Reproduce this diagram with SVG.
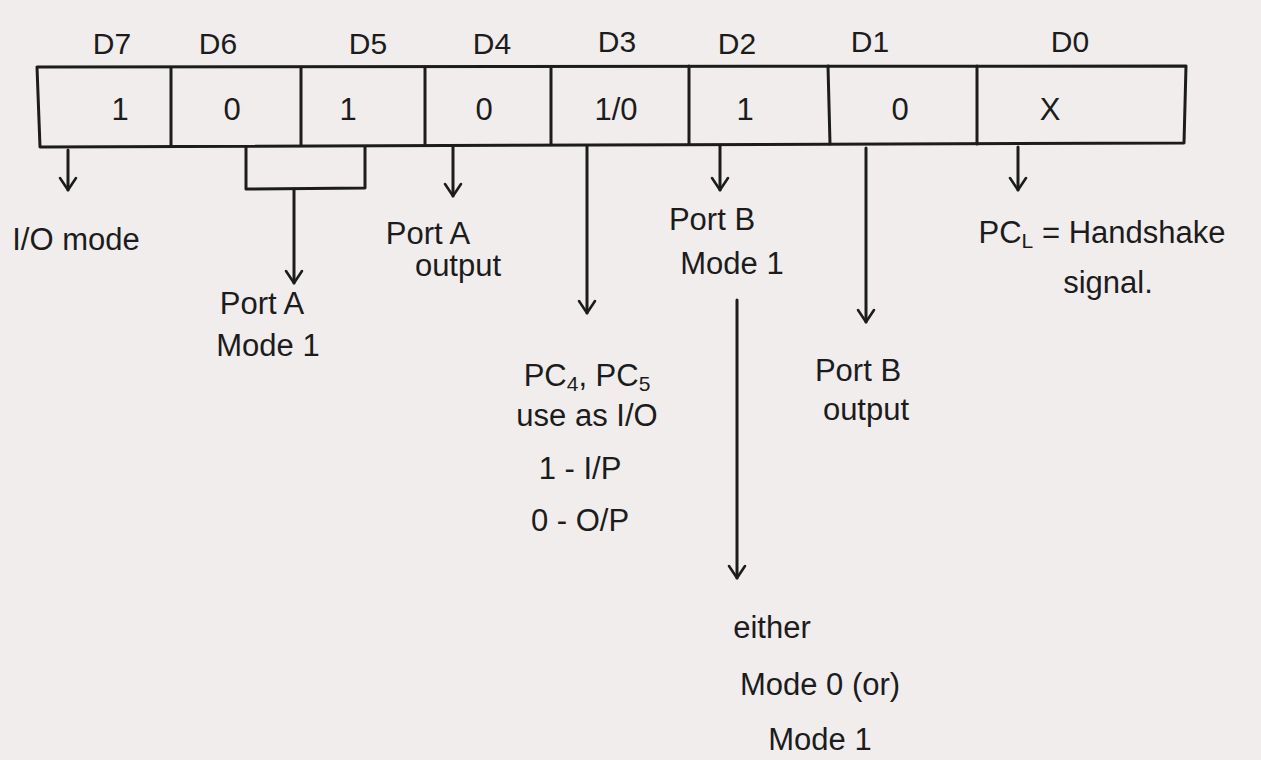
<svg xmlns="http://www.w3.org/2000/svg" width="1261" height="760" viewBox="0 0 1261 760">
  <style>
    .ink { stroke: #1c1c1c; stroke-width: 3; fill: none; stroke-linecap: round; stroke-linejoin: round; }
    .t { font-family: "Liberation Sans", "DejaVu Sans", sans-serif; fill: #1c1c1c; }
    .hdr { font-size: 30px; text-anchor: middle; }
    .val { font-size: 31px; text-anchor: middle; }
    .lbl { font-size: 31px; text-anchor: middle; }
  </style>
  <defs>
    <!-- open V arrowhead, drawn along +x so orient="auto" points it down the line -->
    <marker id="arr" viewBox="0 0 20 20" refX="18" refY="10" markerWidth="20" markerHeight="20" markerUnits="userSpaceOnUse" orient="auto">
      <path d="M6 2 L18 10 L6 18" fill="none" stroke="#1c1c1c" stroke-width="2.6" stroke-linecap="round" stroke-linejoin="round"/>
    </marker>
  </defs>

  <!-- paper -->
  <rect x="0" y="0" width="1261" height="760" fill="#f1eded"/>

  <!-- control word register -->
  <g id="register">
    <path class="ink" d="M37 67 L1186 66 L1184 143 L40 147 Z"/>
    <path class="ink" d="M171 68 L171 145 M301 68 L301 145 M425 67 L425 145 M551 67 L551 144 M689 66 L689 144 M828 66 L830 144 M977 66 L977 144"/>
  </g>

  <!-- bit headers -->
  <g id="headers" class="t hdr">
    <text x="112" y="54">D7</text>
    <text x="218" y="54">D6</text>
    <text x="368" y="54">D5</text>
    <text x="492" y="54">D4</text>
    <text x="617" y="52">D3</text>
    <text x="737" y="54">D2</text>
    <text x="870" y="52">D1</text>
    <text x="1070" y="52">D0</text>
  </g>

  <!-- bit values -->
  <g id="values" class="t val">
    <text x="120" y="120">1</text>
    <text x="232" y="120">0</text>
    <text x="348" y="120">1</text>
    <text x="484" y="120">0</text>
    <text x="616" y="120">1/0</text>
    <text x="745" y="120">1</text>
    <text x="900" y="120">0</text>
    <text x="1050" y="120">X</text>
  </g>

  <!-- connectors -->
  <g id="connectors">
    <path class="ink" d="M68 150 L68 190" marker-end="url(#arr)"/>
    <path class="ink" d="M246 147 L246 189 L365 188 L365 147"/>
    <path class="ink" d="M294 189 L294 283" marker-end="url(#arr)"/>
    <path class="ink" d="M453 146 L453 196" marker-end="url(#arr)"/>
    <path class="ink" d="M587 146 L587 313" marker-end="url(#arr)"/>
    <path class="ink" d="M720 146 L720 190" marker-end="url(#arr)"/>
    <path class="ink" d="M737 300 L737 578" marker-end="url(#arr)"/>
    <path class="ink" d="M866 148 L866 322" marker-end="url(#arr)"/>
    <path class="ink" d="M1018 147 L1018 190" marker-end="url(#arr)"/>
  </g>

  <!-- bit meanings -->
  <g id="d7-label" class="t lbl">
    <text x="76" y="250">I/O mode</text>
  </g>
  <g id="d6d5-label" class="t lbl">
    <text x="262" y="314">Port A</text>
    <text x="268" y="356">Mode 1</text>
  </g>
  <g id="d4-label" class="t lbl">
    <text x="428" y="244">Port A</text>
    <text x="458" y="276">output</text>
  </g>
  <g id="d3-label" class="t lbl">
    <text x="587" y="386">PC<tspan font-size="21" dy="5">4</tspan><tspan dy="-5">, PC</tspan><tspan font-size="21" dy="5">5</tspan></text>
    <text x="587" y="426">use as I/O</text>
    <text x="580" y="479">1 - I/P</text>
    <text x="580" y="531">0 - O/P</text>
  </g>
  <g id="d2-label" class="t lbl">
    <text x="712" y="230">Port B</text>
    <text x="732" y="274">Mode 1</text>
  </g>
  <g id="d2-detail" class="t lbl">
    <text x="772" y="638">either</text>
    <text x="820" y="695">Mode 0 (or)</text>
    <text x="820" y="750">Mode 1</text>
  </g>
  <g id="d1-label" class="t lbl">
    <text x="858" y="381">Port B</text>
    <text x="866" y="420">output</text>
  </g>
  <g id="d0-label" class="t lbl">
    <text x="1102" y="243">PC<tspan font-size="21" dy="5">L</tspan><tspan dy="-5"> = Handshake</tspan></text>
    <text x="1108" y="293">signal.</text>
  </g>
</svg>
